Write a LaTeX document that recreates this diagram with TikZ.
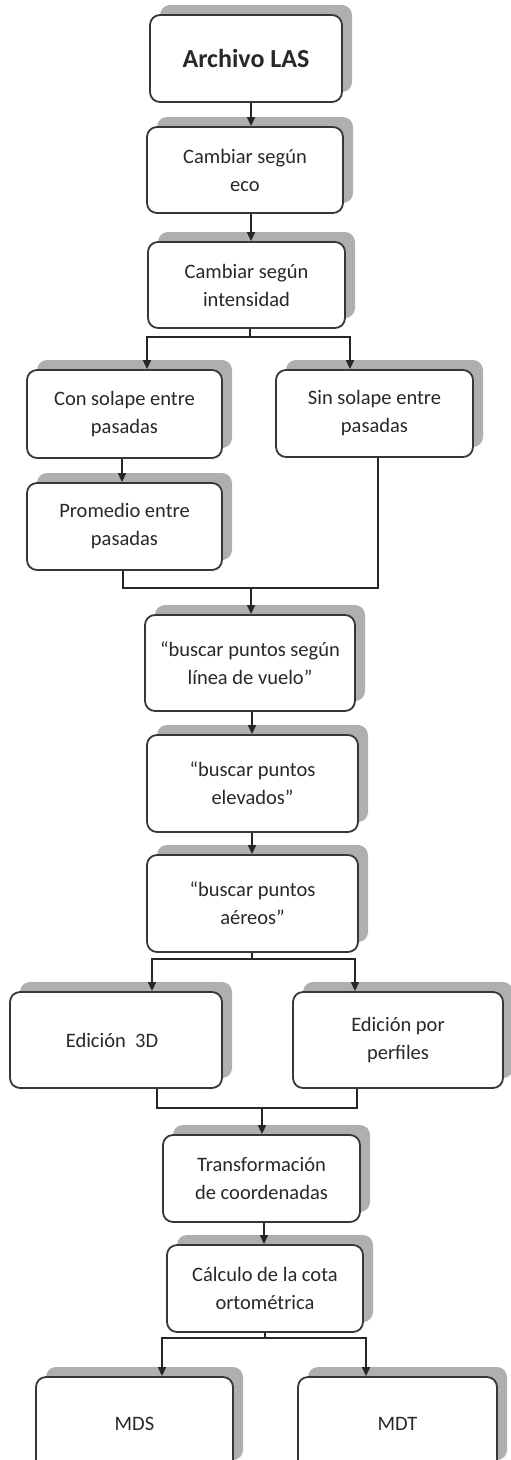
\documentclass[tikz,border=0pt]{standalone}
\usepackage{fontspec}
\setmainfont{Carlito}
\usetikzlibrary{arrows.meta,shadows}
\definecolor{shade}{RGB}{175,175,175}
\definecolor{edge}{RGB}{55,55,55}
\definecolor{ink}{RGB}{40,40,40}
\tikzset{
  box/.style={draw=edge, line width=1.8pt, rounded corners=10pt, fill=white,
    align=center, inner sep=0pt, text=ink,
    font=\fontsize{20.5}{28}\selectfont,
    drop shadow={shadow xshift=10pt, shadow yshift=10pt, fill=shade, opacity=1}},
  link/.style={draw=black!85, line width=1.5pt},
  arr/.style={link, -{Triangle[width=8pt,length=9pt]}}
}
\begin{document}
\begin{tikzpicture}[x=1pt,y=-1pt]
\useasboundingbox (0,0) rectangle (511,1460);
% boxes
\node[box, minimum width=192pt, minimum height=87pt, font=\fontsize{26}{30}\selectfont\bfseries] (las) at (246,58.5) {Archivo LAS};
\node[box, minimum width=196pt, minimum height=86pt] (eco) at (245,170) {Cambiar según\\eco};
\node[box, minimum width=197pt, minimum height=86pt] (int) at (246.5,285) {Cambiar según\\intensidad};
\node[box, minimum width=195pt, minimum height=88pt] (con) at (124.5,414) {Con solape entre\\pasadas};
\node[box, minimum width=197pt, minimum height=87pt] (sin) at (374.5,413.5) {Sin solape entre\\pasadas};
\node[box, minimum width=195pt, minimum height=87pt] (prom) at (124.5,526.5) {Promedio entre\\pasadas};
\node[box, minimum width=210pt, minimum height=96pt] (lin) at (250,663) {“buscar puntos según\\línea de vuelo”};
\node[box, minimum width=211pt, minimum height=97pt] (elev) at (252.5,783.5) {“buscar puntos\\elevados”};
\node[box, minimum width=211pt, minimum height=97pt] (aer) at (252.5,903.5) {“buscar puntos\\aéreos”};
\node[box, minimum width=212pt, minimum height=96pt] (e3d) at (116,1040) {\hspace*{-8pt}Edición~~3D};
\node[box, minimum width=210pt, minimum height=96pt] (per) at (398,1040) {Edición por\\perfiles};
\node[box, minimum width=197pt, minimum height=87pt] (tra) at (261.5,1178.5) {Transformación\\de coordenadas};
\node[box, minimum width=196pt, minimum height=87pt] (cal) at (265,1288.5) {Cálculo de la cota\\ortométrica};
\node[box, minimum width=197pt, minimum height=93pt] (mds) at (134.5,1423.5) {MDS};
\node[box, minimum width=199pt, minimum height=93pt] (mdt) at (397.5,1423.5) {MDT};
% junction points
\coordinate (j1) at (250,337);
\coordinate (j2) at (251,588);
\coordinate (j3) at (252,959);
\coordinate (j4) at (262,1108);
\coordinate (j5) at (265,1338);
% connectors
\draw[arr] (las.south -| 251,0) -- (eco.north -| 251,0);
\draw[arr] (eco.south -| 251,0) -- (int.north -| 251,0);
\draw[link] (int.south -| j1) -- (j1);
\draw[arr] (j1) -| (con.north -| 147,0);
\draw[arr] (j1) -| (sin.north -| 350,0);
\draw[arr] (con.south -| 122,0) -- (prom.north -| 122,0);
\draw[link] (prom.south -| 123,0) |- (j2) -| (sin.south -| 378,0);
\draw[arr] (j2) -- (lin.north -| j2);
\draw[arr] (lin.south -| 252,0) -- (elev.north -| 252,0);
\draw[arr] (elev.south -| 252,0) -- (aer.north -| 252,0);
\draw[link] (aer.south -| j3) -- (j3);
\draw[arr] (j3) -| (e3d.north -| 152,0);
\draw[arr] (j3) -| (per.north -| 355,0);
\draw[link] (e3d.south -| 157,0) |- (j4) -| (per.south -| 357,0);
\draw[arr] (j4) -- (tra.north -| j4);
\draw[arr] (tra.south -| 264,0) -- (cal.north -| 264,0);
\draw[link] (cal.south -| j5) -- (j5);
\draw[arr] (j5) -| (mds.north -| 162,0);
\draw[arr] (j5) -| (mdt.north -| 366,0);
\end{tikzpicture}
\end{document}
